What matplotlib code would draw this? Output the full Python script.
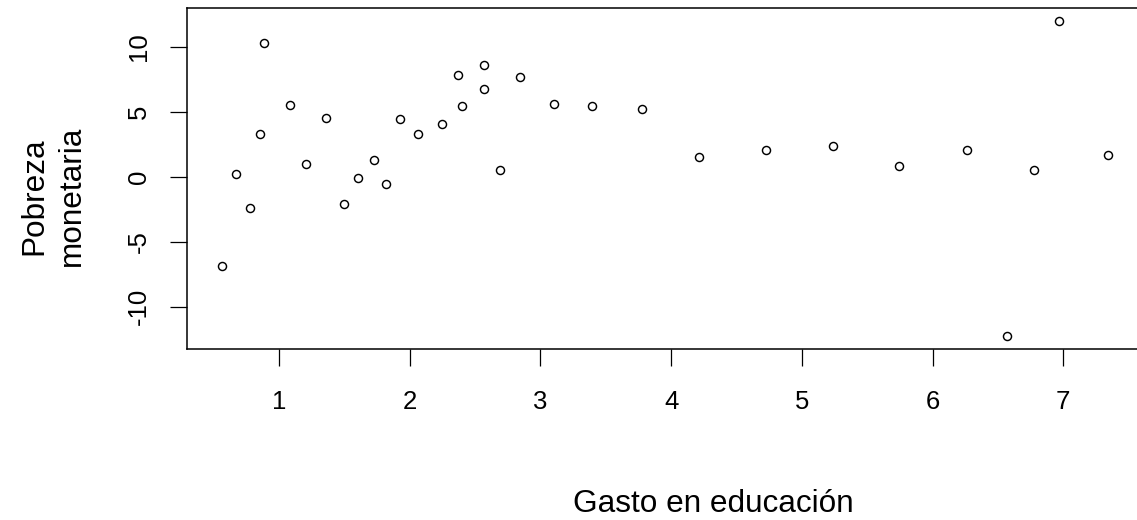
import matplotlib
matplotlib.use("Agg")
import matplotlib.pyplot as plt

# Data
gasto_educacion = [0.566, 0.671, 0.78, 0.855, 0.885, 1.087, 1.207, 1.36, 1.50, 1.602,
                   1.729, 1.819, 1.926, 2.066, 2.247, 2.37, 2.40, 2.571, 2.571, 2.693,
                   2.846, 3.104, 3.397, 3.78, 4.211, 4.728, 5.236, 5.741, 6.262, 6.568,
                   6.779, 6.965, 7.345]
pobreza_monetaria = [-6.87, 0.23, -2.41, 3.31, 10.26, 5.49, 1.0, 4.52, -2.08, -0.12,
                     1.28, -0.54, 4.41, 3.31, 4.08, 7.8, 5.46, 8.57, 6.72, 0.54,
                     7.65, 5.62, 5.46, 5.18, 1.49, 2.08, 2.38, 0.85, 2.08, -12.25,
                     0.54, 11.95, 1.64]
x_ticks = [1, 2, 3, 4, 5, 6, 7]
y_ticks = [-10, -5, 0, 5, 10]
x_label = "Gasto en educación"
y_label_lines = ["Pobreza", "monetaria"]

W, H = 1137, 520
plt.rcParams['font.family'] = ['Liberation Sans', 'DejaVu Sans']
fig = plt.figure(figsize=(W / 100, H / 100), dpi=100)

left, right, top, bottom = 187, 1144, 8, 349
ax = fig.add_axes([left / W, 1 - bottom / H, (right - left) / W, (bottom - top) / H])

ax.plot(gasto_educacion, pobreza_monetaria, linestyle='none', marker='o',
        markersize=5.8, markerfacecolor='none', markeredgecolor='black',
        markeredgewidth=1.05)

ax.set_xlim(1 - 92 / 130.7, 1 + 865 / 130.7)
ax.set_ylim(-(349 - 176.7) / 13.0, (176.7 - 8) / 13.0)

ax.set_xticks(x_ticks)
ax.set_xticklabels([str(v) for v in x_ticks])
ax.set_yticks(y_ticks)
ax.set_yticklabels([str(v) for v in y_ticks])

for s in ax.spines.values():
    s.set_linewidth(1.1)
    s.set_color('black')

ax.tick_params(axis='both', direction='out', length=12.2, width=0.9, color='black',
               labelsize=18.5, labelcolor='black')
ax.tick_params(axis='x', pad=17.5)
ax.tick_params(axis='y', pad=14)
for lab in ax.get_yticklabels():
    lab.set_rotation(90)
    lab.set_va('center')
    lab.set_ha('right')

fig.text(713 / W, 1 - 512 / H, x_label, ha='center', va='baseline', fontsize=22.7,
         color='black')
fig.text(34.8 / W, 1 - 196 / H, y_label_lines[0], rotation=90, ha='center', va='center',
         fontsize=22.7, color='black')
fig.text(71.5 / W, 1 - 196 / H, y_label_lines[1], rotation=90, ha='center', va='center',
         fontsize=22.7, color='black')

fig.savefig('out.png', dpi=100)
